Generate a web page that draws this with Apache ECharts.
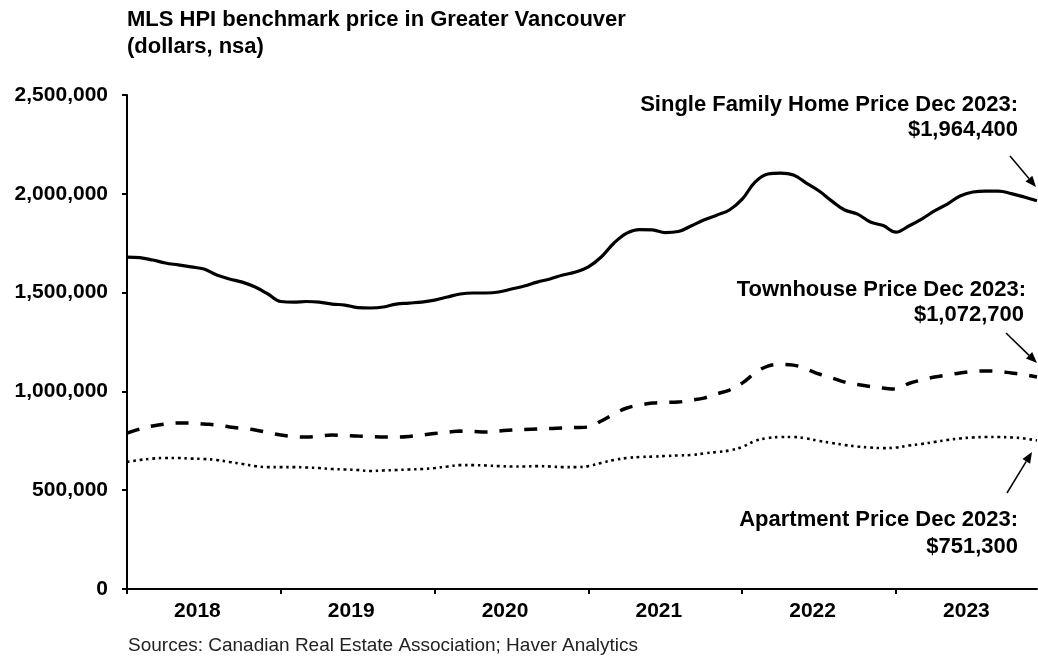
<!DOCTYPE html>
<html>
<head>
<meta charset="utf-8">
<script src="https://cdn.jsdelivr.net/npm/echarts@6/dist/echarts.min.js"></script>
<style>
  html, body { margin: 0; padding: 0; background: #fff; }
  #chart { width: 1038px; height: 656px; }
</style>
</head>
<body>
<div id="chart"></div>
<script>
const years = ["2018", "2019", "2020", "2021", "2022", "2023"];

// monthly benchmark prices, Jan 2018 - Dec 2023 (dollars)
const singleFamily = [
  1680000, 1677000, 1665000, 1650000, 1640000, 1630000, 1619000, 1589000, 1569000, 1553000, 1528000, 1493000,
  1455000, 1452000, 1455000, 1452000, 1442000, 1437000, 1424000, 1422000, 1427000, 1442000, 1447000, 1452000,
  1462000, 1478000, 1493000, 1498000, 1498000, 1503000, 1518000, 1533000, 1553000, 1569000, 1589000, 1604000,
  1630000, 1680000, 1751000, 1801000, 1819000, 1817000, 1804000, 1809000, 1837000, 1867000, 1892000, 1918000,
  1973000, 2059000, 2100000, 2105000, 2095000, 2054000, 2014000, 1963000, 1918000, 1897000, 1857000, 1839000,
  1806000, 1837000, 1872000, 1913000, 1948000, 1989000, 2009000, 2014000, 2014000, 2001000, 1984000, 1964400,
];
const townhouse = [
  789000, 810000, 825000, 835000, 840000, 840000, 835000, 830000, 820000, 812000, 805000, 792000,
  779000, 772000, 769000, 774000, 779000, 777000, 774000, 772000, 769000, 769000, 772000, 779000,
  787000, 794000, 799000, 797000, 794000, 799000, 805000, 807000, 810000, 812000, 815000, 817000,
  820000, 850000, 886000, 916000, 931000, 941000, 944000, 946000, 956000, 966000, 987000, 1007000,
  1042000, 1093000, 1128000, 1136000, 1133000, 1113000, 1088000, 1068000, 1047000, 1035000, 1025000, 1017000,
  1012000, 1040000, 1058000, 1073000, 1083000, 1093000, 1101000, 1103000, 1101000, 1093000, 1085000, 1072700,
];
const apartment = [
  643000, 653000, 660000, 663000, 663000, 660000, 658000, 653000, 643000, 633000, 622000, 617000,
  617000, 617000, 615000, 612000, 607000, 605000, 602000, 597000, 600000, 602000, 605000, 607000,
  612000, 620000, 627000, 627000, 625000, 622000, 620000, 620000, 622000, 620000, 617000, 617000,
  622000, 638000, 653000, 663000, 668000, 670000, 673000, 676000, 678000, 686000, 693000, 701000,
  719000, 749000, 764000, 769000, 769000, 762000, 749000, 739000, 729000, 721000, 716000, 713000,
  716000, 726000, 734000, 744000, 754000, 762000, 767000, 769000, 769000, 767000, 762000, 751300,
];

// one category per month
const months = [];
years.forEach((y) => {
  for (let m = 1; m <= 12; m++) months.push(y + "-" + String(m).padStart(2, "0"));
});

const FONT = "Liberation Sans, Arial, sans-serif";

// small arrow: line + filled head
function arrow(x1, y1, x2, y2) {
  const dx = x2 - x1, dy = y2 - y1;
  const len = Math.sqrt(dx * dx + dy * dy);
  const ux = dx / len, uy = dy / len;
  const hl = 11, hw = 4.5;
  const bx = x2 - ux * hl, by = y2 - uy * hl;
  return [
    {
      type: "line",
      shape: { x1: x1, y1: y1, x2: bx, y2: by },
      style: { stroke: "#000", lineWidth: 1.5 },
      silent: true,
    },
    {
      type: "polygon",
      shape: {
        points: [
          [x2, y2],
          [bx - uy * hw, by + ux * hw],
          [bx + uy * hw, by - ux * hw],
        ],
      },
      style: { fill: "#000" },
      silent: true,
    },
  ];
}

function note(text, x, y) {
  return {
    type: "text",
    x: x,
    y: y,
    silent: true,
    style: {
      text: text,
      align: "right",
      verticalAlign: "middle",
      font: "bold 22px " + FONT,
      fill: "#000",
    },
  };
}

const myChart = echarts.init(document.getElementById("chart"));

const option = {
  animation: false,
  backgroundColor: "#fff",
  textStyle: { fontFamily: FONT, color: "#000" },
  title: [
    {
      text: "MLS HPI benchmark price in Greater Vancouver\n(dollars, nsa)",
      left: 127,
      top: 6,
      padding: 0,
      textStyle: { fontSize: 22, fontWeight: "bold", color: "#000", lineHeight: 27, fontFamily: FONT },
    },
    {
      text: "Sources: Canadian Real Estate Association; Haver Analytics",
      left: 128,
      top: 636,
      padding: 0,
      textStyle: { fontSize: 19, fontWeight: "normal", color: "#222", fontFamily: FONT },
    },
  ],
  grid: {
    left: 127,
    right: 1,
    top: 95,
    bottom: 67,
    containLabel: false,
  },
  xAxis: {
    type: "category",
    boundaryGap: false,
    data: months,
    axisLine: { lineStyle: { color: "#000", width: 2 } },
    axisTick: {
      show: true,
      interval: (i) => i % 12 === 0,
      length: 5,
      lineStyle: { color: "#000", width: 2 },
    },
    axisLabel: {
      interval: (i) => i % 12 === 6,
      formatter: (v) => v.slice(0, 4),
      fontSize: 21,
      fontWeight: "bold",
      color: "#000",
      margin: 12,
      padding: [0, 13, 0, 0],
    },
    splitLine: { show: false },
  },
  yAxis: {
    type: "value",
    min: 0,
    max: 2500000,
    interval: 500000,
    axisLine: { show: true, lineStyle: { color: "#000", width: 2 } },
    axisTick: { show: true, length: 5, lineStyle: { color: "#000", width: 2 } },
    axisLabel: {
      formatter: (v) => v.toLocaleString("en-US"),
      fontSize: 21,
      fontWeight: "bold",
      color: "#000",
      margin: 19,
    },
    splitLine: { show: false },
  },
  series: [
    {
      name: "Single Family Home",
      type: "line",
      data: singleFamily,
      smooth: 0.4,
      showSymbol: false,
      lineStyle: { color: "#000", width: 3.2 },
      emphasis: { disabled: true },
    },
    {
      name: "Townhouse",
      type: "line",
      data: townhouse,
      smooth: 0.4,
      showSymbol: false,
      lineStyle: { color: "#000", width: 3.5, type: [13, 12] },
      emphasis: { disabled: true },
    },
    {
      name: "Apartment",
      type: "line",
      data: apartment,
      smooth: 0.4,
      showSymbol: false,
      lineStyle: { color: "#000", width: 2.6, type: [2.6, 3.8] },
      emphasis: { disabled: true },
    },
  ],
  graphic: [
    note("Single Family Home Price Dec 2023:", 1018, 105),
    note("$1,964,400", 1018, 130),
    note("Townhouse Price Dec 2023:", 1026, 290),
    note("$1,072,700", 1024, 315),
    note("Apartment Price Dec 2023:", 1018, 520),
    note("$751,300", 1018, 547),
    ...arrow(1010, 156, 1036, 187),
    ...arrow(1006, 333, 1037, 363),
    ...arrow(1007, 493, 1032, 452),
  ],
};

option && myChart.setOption(option);
</script>
</body>
</html>
